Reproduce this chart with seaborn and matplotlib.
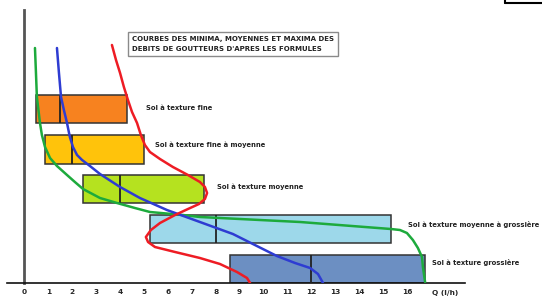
import numpy as np
import matplotlib
matplotlib.use('Agg')
import matplotlib.pyplot as plt
import seaborn as sns
from matplotlib.lines import Line2D

# Sols, de haut en bas
sols = ['Sol à texture fine', 'Sol à texture fine à moyenne', 'Sol à texture moyenne',
        'Sol à texture moyenne à grossière', 'Sol à texture grossière']
q_min = [0.5, 0.85, 2.45, 5.25, 8.6]
q_moy = [1.5, 2.0, 4.0, 8.0, 12.0]
q_max = [4.3, 5.0, 7.5, 15.35, 16.75]
niveau = [4.0, 2.98, 2.0, 1.0, 0.0]
couleurs = ['#F7821F', '#FFC30B', '#B5E21F', '#9DD8EA', '#6C8FC2']

# Courbes (Q en l/h, hauteur arbitraire)
min_q = [0.44, 0.48, 0.52, 0.65, 0.73, 0.86, 1.07, 1.36, 1.78, 2.11, 2.45, 3.16, 3.87,
         4.62, 5.25, 6.63, 7.34, 11.53, 15.33, 15.71, 16.0, 16.25, 16.46, 16.63, 16.67, 16.76]
min_h = [5.875, 5.275, 4.65, 4.0, 3.7, 3.4, 3.125, 2.925, 2.7, 2.525, 2.35, 2.125, 2.0,
         1.875, 1.775, 1.7, 1.65, 1.525, 1.35, 1.325, 1.25, 1.075, 0.875, 0.65, 0.4, 0.025]

moy_q = [1.36, 1.44, 1.53, 1.65, 1.78, 1.90, 2.03, 2.20, 2.41, 2.74, 3.16, 4.0, 4.83,
         5.96, 7.34, 8.72, 9.64, 10.56, 11.32, 11.95, 12.28, 12.49]
moy_h = [5.875, 5.275, 4.65, 4.325, 4.0, 3.65, 3.4, 3.2, 3.075, 2.925, 2.725, 2.4, 2.125,
         1.825, 1.525, 1.225, 0.95, 0.675, 0.5, 0.375, 0.225, 0.0]

max_q = [3.66, 3.83, 4.0, 4.16, 4.33, 4.50, 4.71, 4.87, 5.04, 5.25, 5.67, 6.21, 6.84,
         7.34, 7.55, 7.64, 7.55, 7.30, 6.84, 6.30, 5.67, 5.29, 5.08, 5.17, 5.46, 6.30,
         7.34, 8.18, 8.89, 9.31, 9.44]
max_h = [5.95, 5.575, 5.25, 4.9, 4.575, 4.275, 4.0, 3.7, 3.45, 3.275, 3.1, 2.9, 2.7,
         2.525, 2.4, 2.25, 2.1, 1.975, 1.85, 1.7, 1.5, 1.325, 1.15, 1.025, 0.9, 0.775,
         0.625, 0.475, 0.275, 0.125, 0.0]

titre = "COURBES DES MINIMA, MOYENNES ET MAXIMA DES\nDEBITS DE GOUTTEURS D'APRES LES FORMULES"

sns.set_style('white')
police = ['Liberation Sans Narrow', 'DejaVu Sans Condensed', 'DejaVu Sans']
plt.rcParams['font.family'] = police

fig = plt.figure(figsize=(5.42, 2.98), dpi=100)
ax = fig.add_axes([7 / 542, 15 / 298, 458 / 542, 273 / 298])
ax.set_xlim(-0.73, 18.43)
ax.set_ylim(0, 6.825)

# rectangles min -> max avec trait a la moyenne
haut = 0.71
larg = [b - a for a, b in zip(q_min, q_max)]
ax.barh(niveau, larg, left=q_min, height=haut, align='edge', color=couleurs,
        edgecolor='#333333', linewidth=1.1, zorder=2)
ax.vlines(q_moy, niveau, [n + haut for n in niveau], color='#222222', lw=1.3, zorder=3)

# courbes
sns.lineplot(x=min_q, y=min_h, sort=False, estimator=None, color='#1DAA3C', lw=1.8, ax=ax, zorder=4)
sns.lineplot(x=moy_q, y=moy_h, sort=False, estimator=None, color='#2E3CD2', lw=1.8, ax=ax, zorder=4)
sns.lineplot(x=max_q, y=max_h, sort=False, estimator=None, color='#EE1C24', lw=1.8, ax=ax, zorder=4)
for l in ax.get_lines():
    l.set_solid_joinstyle('round')

# etiquettes des sols
label_x = [5.08, 5.46, 8.05, 16.05, 17.05]
label_dy = [0.375, 0.47, 0.4, 0.475, 0.525]
for s, n, lx, dy in zip(sols, niveau, label_x, label_dy):
    ax.text(lx, n + dy, s, fontsize=4.9, fontweight='bold', va='center', ha='left',
            color='#222222', clip_on=False)

# axes
for c in ['top', 'right']:
    ax.spines[c].set_visible(False)
ax.spines['left'].set_position(('data', 0))
ax.spines['left'].set_color('#555555')
ax.spines['left'].set_linewidth(2)
ax.spines['bottom'].set_color('#111111')
ax.spines['bottom'].set_linewidth(1.2)
ax.set_yticks([])
ax.set_xticks(range(17))
ax.set_xticklabels([str(i) for i in range(17)], fontsize=5.3, fontweight='bold')
ax.tick_params(axis='x', direction='out', length=3, width=1, pad=1.5, color='#111111')
ax.text(17.6, -0.026, 'Q (l/h)', transform=ax.get_xaxis_transform(), fontsize=5.3,
        fontweight='bold', ha='center', va='top')

# encadre du titre
fig.text(132 / 542, 1 - 44 / 298, titre, ha='left', va='center', fontsize=5.0,
         fontweight='bold', linespacing=1.7, color='#222222',
         bbox=dict(boxstyle='square,pad=0.55', fc='white', ec='#8a8a8a', lw=1))

# petit cadre coupe en haut a droite
fig.add_artist(Line2D([505 / 542, 1], [1 - 3 / 298, 1 - 3 / 298], color='black', lw=1.5))
fig.add_artist(Line2D([505 / 542, 505 / 542], [1 - 3 / 298, 1], color='black', lw=1.5))

fig.savefig('out.png', dpi=100)
